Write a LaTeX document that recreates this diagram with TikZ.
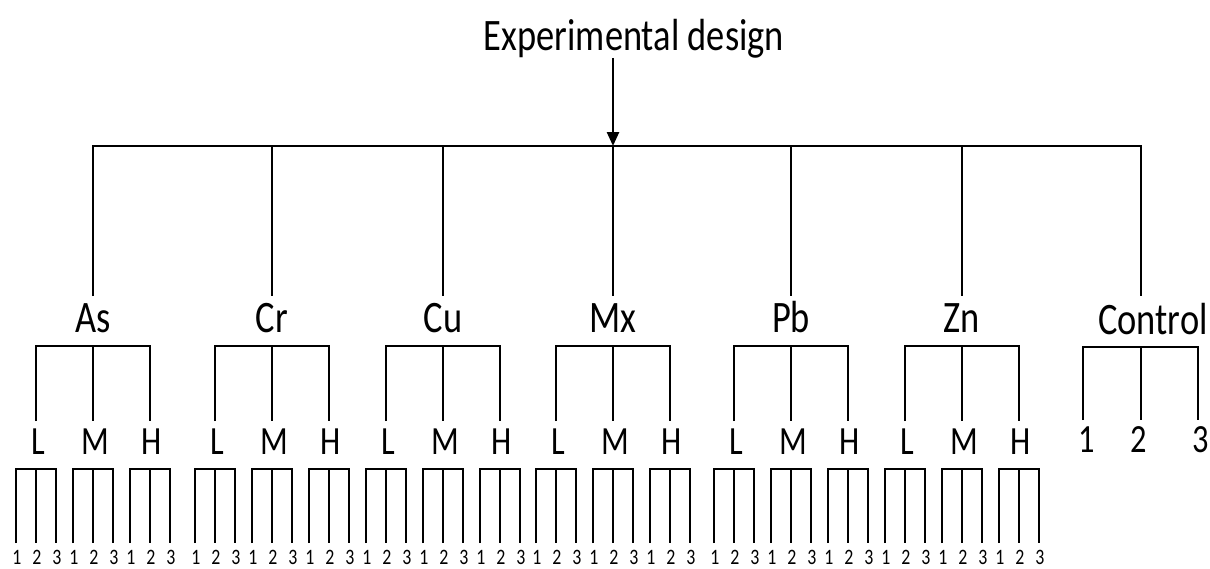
\documentclass[tikz,border=0pt]{standalone}
\usepackage{fontspec}
\setmainfont{Carlito}[FakeStretch=0.81]
\usetikzlibrary{arrows.meta}
\begin{document}
\begin{tikzpicture}[x=1pt,y=-1pt,
  ln/.style={line width=2.5pt, line join=miter},
  ttl/.style={font=\fontsize{45}{54}\selectfont, inner sep=0pt, anchor=base},
  grp/.style={font=\fontsize{45}{52}\selectfont, inner sep=0pt, anchor=base},
  sub/.style={font=\fontsize{40}{46}\selectfont, inner sep=0pt, anchor=base},
  rep/.style={font=\fontsize{22}{26}\selectfont, inner sep=0pt, anchor=base},
  arr/.style={line width=2.5pt, -{Triangle[length=14pt,width=12pt]}}]
\useasboundingbox (0,0) rectangle (1210,568);

% title
\node[ttl] (title) at (634,50) {Experimental design};

% control branch coordinates
\coordinate (tControl) at (1141,146);
\coordinate (dControl) at (1141,296);

% metal groups
\foreach \c/\n in {93/As, 272/Cr, 443/Cu, 613/Mx, 791/Pb, 962/Zn}{
  \coordinate (t\n) at (\c,146);
  \coordinate (d\n) at (\c,296);
  \node[grp] (\n) at (\c,332) {\n};
  \foreach \s/\dx in {L/-57,M/0,H/57}{
    \coordinate (b\n\s) at (\c+\dx,346);
    \coordinate (e\n\s) at (\c+\dx,421);
    \node[sub] (\n\s) at (\c+\dx+2,454) {\s};
    \foreach \k/\ex in {1/-20,2/0,3/20}{
      \coordinate (r\n\s\k) at (\c+\dx+\ex,469);
      \coordinate (q\n\s\k) at (\c+\dx+\ex,543);
      \node[rep] (n\n\s\k) at (\c+\dx+\ex+1,564) {\k};
    }
    \draw[ln] (q\n\s1) -- (r\n\s1) -- (r\n\s3) -- (q\n\s3);
    \draw[ln] (r\n\s2) -- (q\n\s2);
  }
  \draw[ln] (e\n L) -- (b\n L) -- (b\n H) -- (e\n H);
  \draw[ln] (b\n M) -- (e\n M);
}
\foreach \c/\n in {93/As, 272/Cr, 443/Cu, 613/Mx, 791/Pb, 962/Zn}{
  \draw[ln] (t\n) -- (d\n);
}

% top bar
\draw[ln] (dAs) -- (tAs) -- (tControl) -- (dControl);
\draw[arr] (title.south -| tMx) -- (tMx);

% control group
\node[grp] (Control) at (1153,334) {Control};
\coordinate (bC1) at (1083,347);
\coordinate (bC2) at (1141,347);
\coordinate (bC3) at (1198,347);
\coordinate (eC1) at (1083,420);
\coordinate (eC2) at (1141,420);
\coordinate (eC3) at (1198,420);
\draw[ln] (eC1) -- (bC1) -- (bC3) -- (eC3);
\draw[ln] (bC2) -- (eC2);
\node[sub] (C1) at (1087,452) {1};
\node[sub] (C2) at (1139,452) {2};
\node[sub] (C3) at (1201,452) {3};
\end{tikzpicture}
\end{document}
